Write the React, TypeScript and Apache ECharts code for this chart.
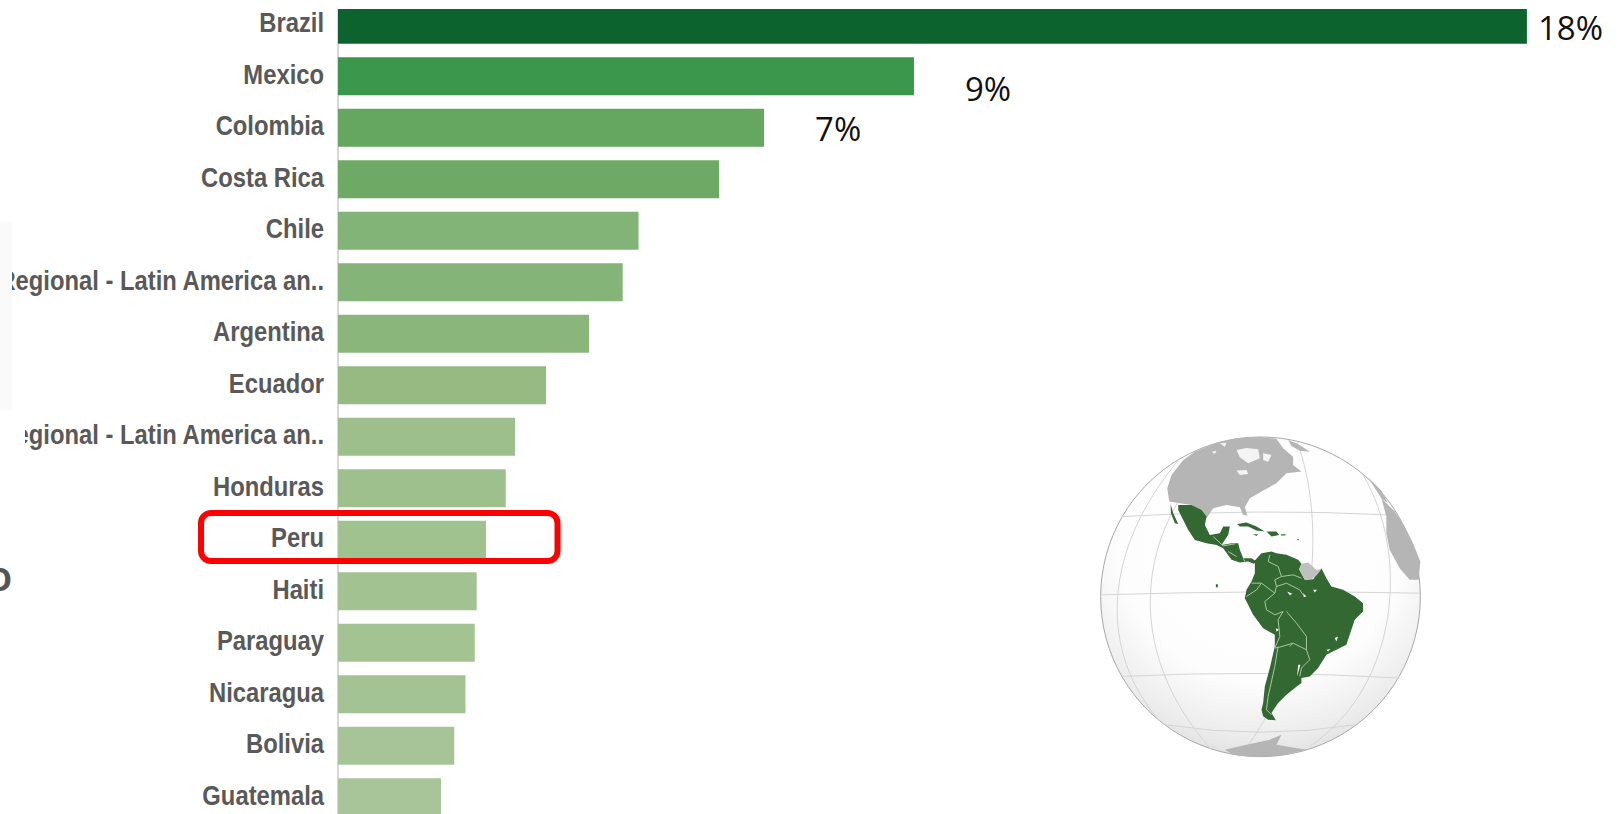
import React, { useEffect, useRef } from "react";
import * as echarts from "echarts";

const categories = ["Brazil","Mexico","Colombia","Costa Rica","Chile","Regional - Latin America an..","Argentina","Ecuador","Regional - Latin America an..","Honduras","Peru","Haiti","Paraguay","Nicaragua","Bolivia","Guatemala"];
const values = [18,8.72,6.45,5.77,4.55,4.31,3.80,3.15,2.68,2.54,2.24,2.10,2.07,1.93,1.76,1.56];
const barColors = ["#0c632e","#3a974c","#65a660","#6eaa66","#82b377","#84b478","#8ab67c","#95bb83","#9cbf8b","#9dc08c","#a0c28e","#a2c391","#a3c393","#a4c395","#a6c497","#a8c59a"];
const valueLabels: Record<number, { text: string; distance: number; dy: number }> = {
  0: { text: "18%", distance: 11, dy: 3 },
  1: { text: "9%", distance: 51, dy: 12 },
  2: { text: "7%", distance: 51, dy: 1 },
};

// Globe artwork, traced in a 1080x1050 drawing space
const canadaUsa = "M268 245 L262 205 L275 165 L310 120 L345 95 L410 68 L470 55 L540 51 L590 56 L610 85 L640 110 L640 135 L665 155 L620 160 L590 190 L545 215 L510 235 L495 262 L503 287 L490 285 L480 262 L440 255 L400 265 L380 295 L360 270 L335 255 L300 250 Z";
const mexicoCentral = "M295 255 L335 255 L365 270 L380 290 L375 315 L390 345 L420 340 L430 320 L450 320 L445 345 L425 375 L455 370 L475 370 L480 390 L490 415 L515 415 L530 425 L522 432 L505 425 L480 428 L455 420 L430 385 L410 375 L380 370 L345 360 L325 330 L310 300 L295 270 Z M272 252 L280 280 L295 312 L285 310 L273 280 Z";
const islands = "M472 312 L500 308 L530 320 L555 335 L530 332 L505 320 L480 320 Z M560 335 L590 335 L598 345 L575 350 Z M520 343 L535 343 L530 348 Z M604 343 L618 343 L616 347 L604 347 Z M650 358 L658 358 L656 362 Z M408 493 L414 493 L414 502 L408 502 Z";
const southAmerica = "M525 422 L545 400 L575 395 L590 400 L620 405 L655 420 L665 432 L658 448 L675 480 L700 478 L725 445 L740 475 L755 500 L790 510 L825 530 L850 550 L850 575 L825 600 L815 630 L800 675 L770 690 L740 705 L715 745 L690 770 L665 775 L665 790 L645 805 L620 825 L595 850 L585 865 L575 880 L588 902 L565 900 L550 890 L545 870 L550 850 L555 800 L570 745 L585 680 L585 645 L550 625 L520 585 L495 535 L500 510 L515 485 L525 460 Z";
const guiana = "M665 432 L685 428 L710 450 L725 448 L712 465 L695 478 L675 480 L658 448 Z";
const africa = "M905 235 L945 275 L975 320 L1000 370 L1022 425 L1017 480 L990 480 L960 445 L930 390 L920 340 L920 290 Z M865 172 L905 212 L925 250 L905 235 Z";
const antarctica = "M435 990 L500 975 L570 960 L605 945 L590 975 L680 990 L600 1008 L520 1012 L460 1005 Z";
const greenland = "M625 60 L655 72 L690 95 L660 92 L635 78 Z";
const borders = "M570 405 L565 425 L595 440 L605 470 L585 480 L590 500 L585 520 L545 490 L515 490 M500 530 L530 510 L545 490 M585 520 L555 545 L560 570 L585 585 L610 575 L595 600 L600 650 L585 685 L600 682 L640 670 L680 690 L690 720 L665 745 L660 770 M620 575 L650 610 L680 650 L680 690 M640 670 L630 680 M595 680 L585 740 L565 830 L560 870 L575 885 M605 470 L640 465 L665 475 M590 500 L620 490 L660 510 L670 525 M400 350 L430 378 M430 378 L465 372 M445 395 L470 410 M490 415 L497 428";
const graticule = "M65 525 Q540 510 1020 520 M125 290 Q540 265 925 285 M125 770 Q540 750 960 775 M255 915 Q540 960 830 915 M465 60 C200 250 90 650 395 990 M650 60 C740 300 720 700 480 1010 M850 165 C990 400 960 800 690 980 M300 115 C60 400 60 700 240 905";
const spots = "M470 90 L500 84 L535 88 L540 115 L505 130 L480 112 Z M470 152 L500 150 L505 162 L480 165 Z M420 70 L440 68 L435 80 Z M395 95 L410 92 L405 102 Z M550 100 L575 105 L565 125 L550 120 Z M588 625 L598 630 L590 636 Z M700 510 L712 510 L705 518 Z M765 655 L775 650 L770 665 Z M622 515 L638 522 L630 526 Z M670 520 L680 530 L672 532 Z M655 735 L662 735 L652 770 Z M740 690 L752 688 L745 695 Z";

const globeShapes: Record<string, string> = { canadaUsa, mexicoCentral, islands, southAmerica, guiana, africa, antarctica, greenland, borders, graticule, spots };
Object.keys(globeShapes).forEach((key) => {
  echarts.graphic.registerShape("globe_" + key, echarts.graphic.extendPath(globeShapes[key] as any, {}) as any);
});

const G = "#b5b5b5";
const D = "#346833";
const globeChildren = [
  {
    type: "circle", shape: { cx: 542, cy: 531, r: 480 },
    style: {
      fill: new echarts.graphic.RadialGradient(0.5, 0.32, 0.72, [
        { offset: 0, color: "#ffffff" }, { offset: 0.62, color: "#fdfdfd" },
        { offset: 0.86, color: "#ececec" }, { offset: 1, color: "#dcdcdc" },
      ]),
      stroke: "#a8a8a8", lineWidth: 3,
    },
  },
  { type: "globe_graticule", style: { fill: "none", stroke: "#d4d4d4", lineWidth: 3 } },
  { type: "globe_greenland", style: { fill: G } },
  { type: "globe_canadaUsa", style: { fill: G } },
  { type: "globe_africa", style: { fill: G } },
  { type: "globe_antarctica", style: { fill: G } },
  { type: "globe_mexicoCentral", style: { fill: D } },
  { type: "globe_islands", style: { fill: D } },
  { type: "globe_southAmerica", style: { fill: D } },
  { type: "globe_guiana", style: { fill: "#c0c0c0" } },
  { type: "globe_borders", style: { fill: "none", stroke: "#a7c8a0", lineWidth: 3 } },
  { type: "globe_spots", style: { fill: "#f4f4f4" } },
];

export default function App() {
  const ref = useRef<HTMLDivElement>(null);
  useEffect(() => {
    document.body.style.margin = "0";
    document.body.style.overflow = "hidden";
    const chart = echarts.init(ref.current!, undefined, { renderer: "svg" });
    chart.setOption({
      animation: false,
      backgroundColor: "#ffffff",
      grid: { left: 338, top: -1, width: 1321, height: 824, outerBoundsMode: "none", containLabel: false },
      xAxis: { type: "value", min: 0, max: 20, show: false },
      yAxis: {
        type: "category", inverse: true, data: categories,
        axisTick: { show: false },
        axisLine: { show: true, lineStyle: { color: "#d8d8d8", width: 2 } },
        axisLabel: { show: false },
      },
      series: [
        {
          type: "bar", barWidth: 38, silent: true,
          data: values.map((v, i) => {
            const l = valueLabels[i];
            return {
              value: v,
              itemStyle: { color: barColors[i] },
              label: l ? {
                show: true, position: "right", distance: l.distance, offset: [0, l.dy],
                formatter: l.text, color: "#111111", fontSize: 33,
                fontFamily: "'Open Sans', sans-serif",
              } : { show: false },
            };
          }),
        },
        {
          // Condensed category labels, placed by the category axis
          type: "custom", silent: true, clip: false,
          data: categories.map((_, i) => [0, i]),
          encode: { x: 0, y: 1 },
          renderItem: (_: any, api: any) => {
            const p = api.coord([0, api.value(1)]);
            return {
              type: "text", x: p[0] - 14, y: p[1] - 2, scaleX: 0.85,
              style: {
                text: categories[api.value(1)], align: "right", verticalAlign: "middle",
                fontSize: 28, fontWeight: "bold", fontFamily: "'Liberation Sans', sans-serif", fill: "#595959",
              },
            };
          },
        },
      ],
      graphic: [
        { type: "rect", z: 50, shape: { x: 330, y: 0, width: 1210, height: 9 }, style: { fill: "#ffffff" } },
        { type: "rect", z: 50, shape: { x: 0, y: 222, width: 12, height: 188 }, style: { fill: "#fafafa" } },
        { type: "rect", z: 50, shape: { x: 0, y: 415, width: 25, height: 45 }, style: { fill: "#ffffff" } },
        { type: "text", z: 50, x: -14, y: 562, style: { text: "O", fontSize: 33, fontWeight: "bold", fontFamily: "'Open Sans', sans-serif", fill: "#555555" } },
        { type: "rect", z: 60, shape: { x: 201, y: 513, width: 356.5, height: 48, r: 10 }, style: { fill: "none", stroke: "#ff0000", lineWidth: 6 } },
        { type: "group", z: 40, x: 1080, y: 420, scaleX: 1 / 3, scaleY: 1 / 3, children: globeChildren },
      ],
    });
    return () => chart.dispose();
  }, []);
  return <div ref={ref} style={{ width: 1621, height: 814 }} />;
}
